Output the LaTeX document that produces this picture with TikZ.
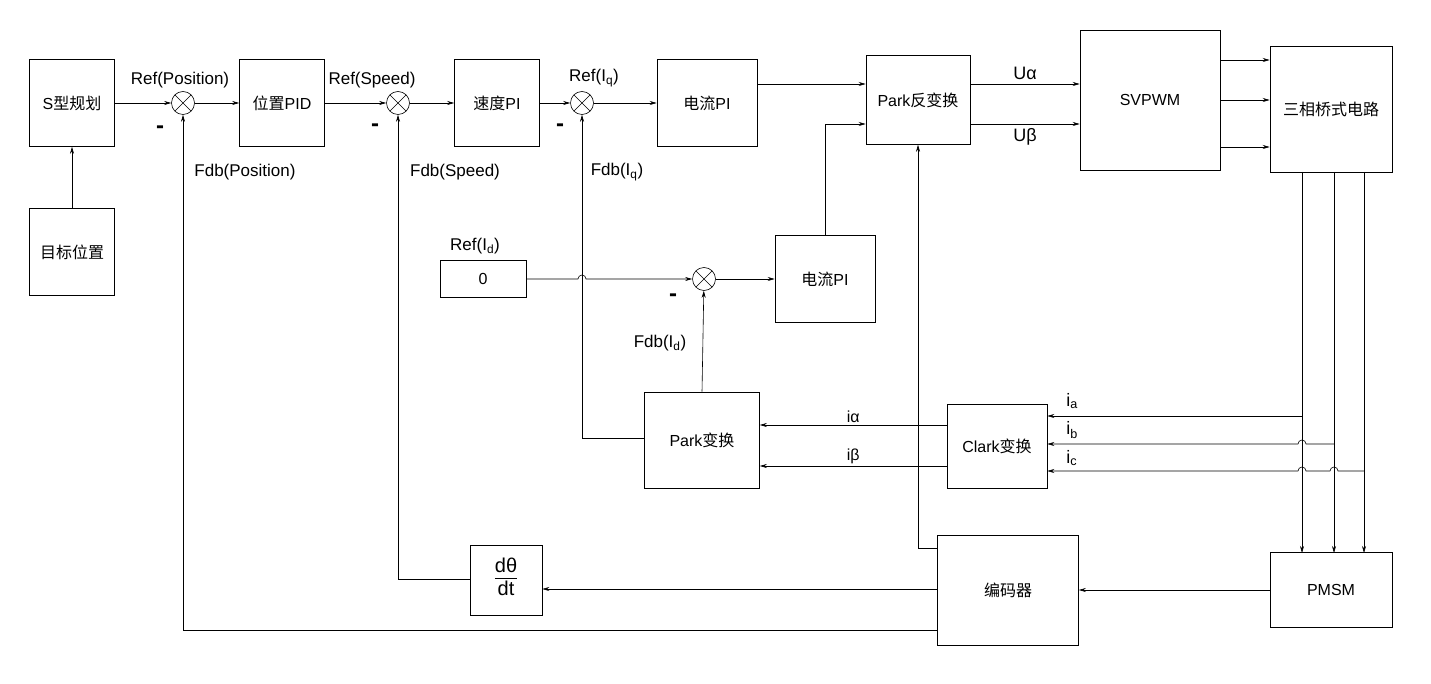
\documentclass[tikz,border=0pt]{standalone}
\usepackage{fontspec}
\setmainfont{Liberation Sans}
\newfontfamily\cjk{Noto Sans CJK SC}
\usetikzlibrary{arrows.meta}
\begin{document}
\begin{tikzpicture}[x=1pt,y=-1pt,
 box/.style={draw,minimum width=#1,inner sep=0pt,font=\fontsize{16}{19}\selectfont},
 sum/.style={draw,circle,minimum size=23pt,inner sep=0pt,path picture={
   \draw (path picture bounding box.south west)--(path picture bounding box.north east)
         (path picture bounding box.north west)--(path picture bounding box.south east);}},
 lbl/.style={font=\fontsize{16}{18}\selectfont,inner sep=1pt},
 minus/.style={font=\bfseries\fontsize{24}{24}\selectfont},
 >={Stealth[length=7pt,width=4pt]}, every path/.style={line width=0.6pt}]
\useasboundingbox (0,0) rectangle (1431,684);
\node[box=85pt,minimum height=87pt] (S) at (72,103) {S{\cjk 型规划}};
\node[box=85pt,minimum height=87pt] (T) at (72,252) {\cjk 目标位置};
\node[sum] (s1) at (183,103) {};
\node[box=85pt,minimum height=87pt] (pid) at (282,103) {{\cjk 位置}PID};
\node[sum] (s2) at (398,103) {};
\node[box=85pt,minimum height=87pt] (v) at (497,103) {{\cjk 速度}PI};
\node[sum] (s3) at (582,103) {};
\node[box=100pt,minimum height=87pt] (c1) at (707,103) {{\cjk 电流}PI};
\node[box=104pt,minimum height=89pt] (ip) at (918,100) {Park{\cjk 反变换}};
\node[box=140pt,minimum height=140pt] (sv) at (1150,100) {SVPWM};
\node[box=122pt,minimum height=126pt] (br) at (1331,109) {\cjk 三相桥式电路};
\node[box=86pt,minimum height=37pt] (z) at (483,279) {0};
\node[sum] (s4) at (704,279) {};
\node[box=100pt,minimum height=87pt] (c2) at (825,279) {{\cjk 电流}PI};
\node[box=115pt,minimum height=96pt] (pk) at (702,440) {Park{\cjk 变换}};
\node[box=100pt,minimum height=84pt] (ck) at (997,446) {Clark{\cjk 变换}};
\node[box=72pt,minimum height=70pt,font=\fontsize{20}{22}\selectfont] (dt) at (506,580) {\begin{tabular}{@{}c@{}}dθ\\[-2pt]\hline\rule{0pt}{18pt}dt\end{tabular}};
\node[box=141pt,minimum height=110pt] (enc) at (1008,590) {\cjk 编码器};
\node[box=122pt,minimum height=75pt] (pm) at (1331,590) {PMSM};

\draw[->] (T)--(S);
\draw[->] (S)--(s1); \draw[->] (s1)--(pid); \draw[->] (pid)--(s2);
\draw[->] (s2)--(v); \draw[->] (v)--(s3); \draw[->] (s3)--(c1);
\draw[->] (c1.east|-0,84)--(ip.west|-0,84);
\draw[->] (c2.north)|-(ip.west|-0,124);
\draw[->] (ip.east|-0,84)--node[lbl,above=3pt,font=\fontsize{18}{20}\selectfont]{Uα}(sv.west|-0,84);
\draw[->] (ip.east|-0,124)--node[lbl,below=3pt,font=\fontsize{18}{20}\selectfont]{Uβ}(sv.west|-0,124);
\foreach \y in {60,100,147} \draw[->] (sv.east|-0,\y)--(br.west|-0,\y);
\foreach \x in {1302,1334,1364} \draw[->] (\x,172)--(\x,553);
\draw[->] (1302,416)--(ck.east|-0,416);
\draw[->] (1334,444)--(1306,444) arc(0:-180:4)--(ck.east|-0,444);
\draw[->] (1364,471)--(1338,471) arc(0:-180:4)--(1306,471) arc(0:-180:4)--(ck.east|-0,471);
\node[lbl,anchor=west,font=\fontsize{18}{20}\selectfont] at (1065,401) {i\textsubscript{a}};
\node[lbl,anchor=west,font=\fontsize{18}{20}\selectfont] at (1065,430) {i\textsubscript{b}};
\node[lbl,anchor=west,font=\fontsize{18}{20}\selectfont] at (1065,458) {i\textsubscript{c}};
\draw[->] (ck.west|-0,425)--node[lbl,above=1pt]{iα}(pk.east|-0,425);
\draw[->] (ck.west|-0,466)--node[lbl,above=1pt]{iβ}(pk.east|-0,466);
\draw[->] (pk.north)--(s4);
\draw[->] (pk.west|-0,438)--(582,438)--(s3.south);
\draw[->] (z.east)--(578,279) arc(180:360:4)--(s4);
\draw[->] (s4)--(c2);
\draw[->] (enc.west|-0,548)--(918,548)--(ip.south);
\draw[->] (pm)--(enc);
\draw[->] (enc.west|-0,589)--(dt.east|-0,589);
\draw[->] (dt.west|-0,579)--(398,579)--(s2.south);
\draw[->] (enc.west|-0,630)--(183,630)--(s1.south);

\node[lbl,font=\fontsize{17}{19}\selectfont] at (180,80) {Ref(Position)};
\node[lbl,font=\fontsize{17}{19}\selectfont] at (372,80) {Ref(Speed)};
\node[lbl,font=\fontsize{17}{19}\selectfont] at (594,78) {Ref(I\textsubscript{q})};
\node[lbl,font=\fontsize{17}{19}\selectfont] at (245,172) {Fdb(Position)};
\node[lbl,font=\fontsize{17}{19}\selectfont] at (455,172) {Fdb(Speed)};
\node[lbl,font=\fontsize{17}{19}\selectfont] at (617,172) {Fdb(I\textsubscript{q})};
\node[lbl,font=\fontsize{17}{19}\selectfont] at (475,246) {Ref(I\textsubscript{d})};
\node[lbl,font=\fontsize{17}{19}\selectfont] at (660,343) {Fdb(I\textsubscript{d})};
\node[minus] at (160,130) {-};
\node[minus] at (375,128) {-};
\node[minus] at (560,128) {-};
\node[minus] at (673,298) {-};
\end{tikzpicture}
\end{document}
